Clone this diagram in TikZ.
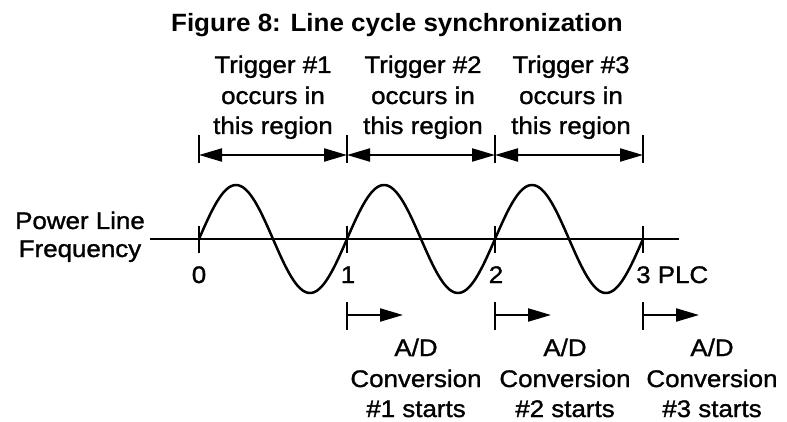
\documentclass[tikz,border=0pt]{standalone}
\usepackage{fontspec}
\setmainfont{Liberation Sans}[FakeStretch=1.08,FakeBold=1.2]
\newfontfamily\titlefont{Liberation Sans}[FakeStretch=1.04]
\usetikzlibrary{arrows.meta}
\begin{document}
\begin{tikzpicture}[x=1pt,y=-1pt,
  lbl/.style={font=\fontsize{24}{29}\selectfont, anchor=base, inner sep=0pt},
  tickline/.style={line width=2.5pt},
  ln/.style={line width=2.5pt},
  tip/.tip={Triangle[length=23pt,width=13pt]},
  dimarrow/.style={line width=2.2pt, tip-tip},
  startarrow/.style={line width=2.2pt, -tip}]
\useasboundingbox (0,0) rectangle (787,422);
\fill[white] (0,0) rectangle (787,422);

% title
\node[anchor=base, inner sep=0pt, font=\titlefont\bfseries\fontsize{25}{30}\selectfont] (title) at (397,32) {Figure 8: Line cycle synchronization};

% trigger labels
\node[lbl] (t1a) at (273,73) {Trigger \#1};
\node[lbl] (t1b) at (273,104) {occurs in};
\node[lbl] (t1c) at (273,134) {this region};
\node[lbl] (t2a) at (423,73) {Trigger \#2};
\node[lbl] (t2b) at (423,104) {occurs in};
\node[lbl] (t2c) at (423,134) {this region};
\node[lbl] (t3a) at (571,73) {Trigger \#3};
\node[lbl] (t3b) at (571,104) {occurs in};
\node[lbl] (t3c) at (571,134) {this region};

% top ticks and dimension arrows
\foreach \i/\x in {0/199,1/347,2/495,3/643}{
  \coordinate (ut\i) at (\x,135);
  \coordinate (ub\i) at (\x,163);
  \coordinate (ua\i) at (\x,155);
  \draw[tickline] (ut\i) -- (ub\i);
}
\draw[dimarrow] (ua0) -- (ua1);
\draw[dimarrow] (ua1) -- (ua2);
\draw[dimarrow] (ua2) -- (ua3);

% axis
\coordinate (axL) at (150,239);
\coordinate (axR) at (679,239);
\draw[ln] (axL) -- (axR);
\foreach \i/\x in {0/199,1/347,2/495,3/643}{
  \coordinate (at\i) at (\x,226);
  \coordinate (ab\i) at (\x,253);
  \draw[tickline] (at\i) -- (ab\i);
}
% sine wave
\draw[ln, line join=round] plot[domain=0:3, samples=240, smooth] ({199+148*\x}, {239-54*sin(360*\x)});

% axis labels
\node[lbl] (pl1) at (80,229) {Power Line};
\node[lbl] (pl2) at (80,257) {Frequency};
\node[lbl] (n0) at (199,283) {0};
\node[lbl] (n1) at (348,283) {1};
\node[lbl] (n2) at (496,283) {2};
\node[lbl, anchor=base west] (n3) at (636,283) {3 PLC};

% lower start arrows
\foreach \i/\x in {1/347,2/495,3/643}{
  \coordinate (lt\i) at (\x,302);
  \coordinate (lb\i) at (\x,330);
  \coordinate (ls\i) at (\x,315);
  \coordinate (le\i) at (\x+56,315);
  \draw[tickline] (lt\i) -- (lb\i);
  \draw[startarrow] (ls\i) -- (le\i);
}

% A/D labels
\node[lbl] (c1a) at (416,356) {A/D};
\node[lbl] (c1b) at (416,387) {Conversion};
\node[lbl] (c1c) at (416,417) {\#1 starts};
\node[lbl] (c2a) at (565,356) {A/D};
\node[lbl] (c2b) at (565,387) {Conversion};
\node[lbl] (c2c) at (565,417) {\#2 starts};
\node[lbl] (c3a) at (712,356) {A/D};
\node[lbl] (c3b) at (712,387) {Conversion};
\node[lbl] (c3c) at (712,417) {\#3 starts};
\end{tikzpicture}
\end{document}
